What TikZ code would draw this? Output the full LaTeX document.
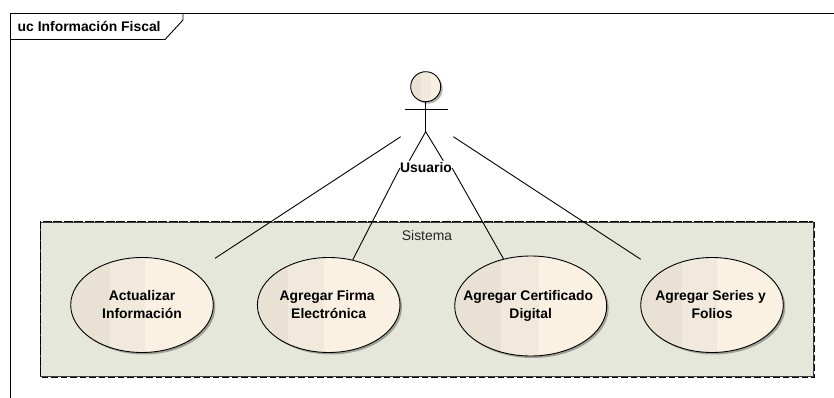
\documentclass[tikz,border=0pt]{standalone}
\usepackage{fontspec}
\setmainfont{Liberation Sans}
\usetikzlibrary{shapes.geometric,shadows,calc}
\definecolor{sysfill}{HTML}{E5E7DA}
\definecolor{bandA}{HTML}{E9E1D3}
\definecolor{bandB}{HTML}{F1E9DC}
\definecolor{bandC}{HTML}{FAF1E3}
\tikzset{
  every node/.style={font=\fontsize{13.9}{18}\selectfont\bfseries},
  line/.style={draw=black,line width=0.9pt},
  softshadow/.style={drop shadow={shadow xshift=2pt,shadow yshift=-2pt,fill=black,opacity=.3}},
  bands/.style n args={2}{path picture={
    \fill[bandC] (path picture bounding box.south west) rectangle (path picture bounding box.north east);
    \fill[bandB] ($(path picture bounding box.south west)+(#1,0)$) rectangle ($(path picture bounding box.north west)+(#2,0)$);
    \fill[bandA] (path picture bounding box.south west) rectangle ($(path picture bounding box.north west)+(#1,0)$);
  }},
  ucase/.style={ellipse,line,inner xsep=-20pt,inner ysep=0pt,align=center,text=black,softshadow},
  ucsmall/.style={ucase,minimum width=142.6pt,minimum height=95pt},
  uclarge/.style={ucase,minimum width=152pt,minimum height=100pt},
  sysdash/.style={draw=black,line width=1.4pt,dash pattern=on 6.5pt off 3pt},
}
\begin{document}
\begin{tikzpicture}[x=1pt,y=-1pt]
\useasboundingbox (0,0) rectangle (834,398);
\fill[white] (0,0) rectangle (834,398);
% frame
\draw[line] (10,398) -- (10,13.5) -- (834,13.5);
\draw[line] (10,39.5) -- (165,39.5) -- (183,20) -- (183,13.5);
\node[anchor=west,inner sep=0pt] (title) at (17.5,26.5) {uc Información Fiscal};
% system
\node[rectangle,fill=sysfill,draw=black!75,line width=0.9pt,minimum width=772.5pt,minimum height=154pt,inner sep=0pt] (system) at (426.75,299) {};
\draw[sysdash] ($(system.north east)+(0.8,0)$) -- ($(system.south east)+(0.8,0.8)$) -- ($(system.south west)+(0,0.8)$);
\draw[draw=black,line width=0.9pt,dash pattern=on 9pt off 1.5pt] (system.south west) -- (system.north west) -- (system.north east);
\node[font=\fontsize{13.9}{18}\selectfont\mdseries,text=black!85,inner sep=0pt] (sistema) at (427,236) {Sistema};
% use cases
\node[ucsmall,bands={39.3pt}{74.3pt}] (uc1) at (142,305) {Actualizar\\Información};
\node[ucsmall,bands={30.7pt}{66.7pt}] (uc2) at (328.7,305) {Agregar Firma\hspace*{3pt}\\Electrónica};
\node[uclarge,bands={46pt}{84.3pt}] (uc3) at (530.7,306) {Agregar Certificado\hspace*{5pt}\\Digital};
\node[ucsmall,bands={41.6pt}{76.6pt}] (uc4) at (712,305) {Agregar Series y\hspace*{3pt}\\Folios};
% actor
\node[circle,line,minimum size=30pt,inner sep=0pt,softshadow,bands={10pt}{20pt}] (head) at (425.7,86.7) {};
\coordinate (hip) at (425.7,131.7);
\coordinate (armL) at (405,109.3);
\coordinate (armR) at (447.7,109.3);
\coordinate (footL) at (409.3,160.7);
\coordinate (footR) at (443.3,160.7);
\draw[line] (head.south) -- (hip);
\draw[line] (armL) -- (armR);
\draw[line] (footL) -- (hip) -- (footR);
\node[inner sep=0pt] (usuario) at (426,168) {Usuario};
% connectors
\coordinate (startA) at (400.7,136.7);
\coordinate (startD) at (453.3,136.7);
\coordinate (endA) at ($(uc1.center)+(73,-46.7)$);
\coordinate (endD) at ($(uc4.center)+(-71.3,-45.7)$);
\draw[line] (startA) -- (endA);
\draw[line] (usuario.west) -- (uc2.62);
\draw[line] (usuario.east) -- (uc3.120);
\draw[line] (startD) -- (endD);
\end{tikzpicture}
\end{document}
